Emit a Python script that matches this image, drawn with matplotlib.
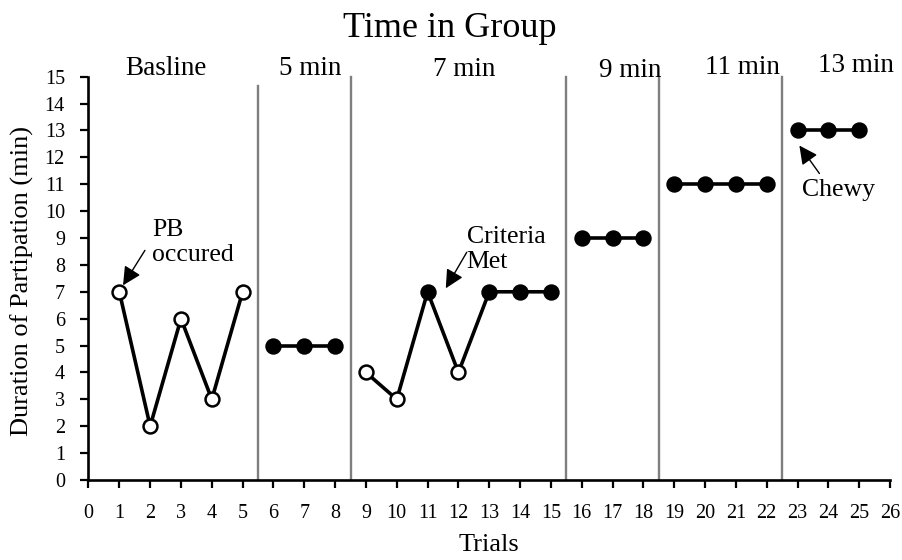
import matplotlib
matplotlib.use("Agg")
import matplotlib.pyplot as plt

# ---- data ----
trials = list(range(1, 26))
values = [7, 2, 6, 3, 7,
          5, 5, 5,
          4, 3, 7, 4, 7, 7, 7,
          9, 9, 9,
          11, 11, 11, 11,
          13, 13, 13]
filled = [False, False, False, False, False,
          True, True, True,
          False, False, True, False, True, True, True,
          True, True, True,
          True, True, True, True,
          True, True, True]
phase_sizes = [5, 3, 7, 3, 4, 3]
phase_labels = ["Basline", "5 min", "7 min", "9 min", "11 min", "13 min"]
phase_changes = [5.5, 8.5, 15.5, 18.5, 22.5]
x_ticks = list(range(0, 27))
y_ticks = list(range(0, 16))

plt.rcParams['font.family'] = ['Liberation Serif', 'DejaVu Serif']

fig = plt.figure(figsize=(9.03, 5.6), dpi=100)
ax = fig.add_axes([88.5 / 903, 1 - 480 / 560, (890 - 88.5) / 903, (480 - 76.7) / 560])

# phase change lines
for i, pc in enumerate(phase_changes):
    top = 14.65 if i == 0 else 15
    ax.plot([pc, pc], [0, top], color='#7f7f7f', lw=1.7, zorder=1, clip_on=False)

# series per phase
start = 0
for size in phase_sizes:
    xs = trials[start:start + size]
    ys = values[start:start + size]
    fs = filled[start:start + size]
    ax.plot(xs, ys, color='black', lw=2.6, zorder=2, clip_on=False)
    for x, y, f in zip(xs, ys, fs):
        ax.plot([x], [y], marker='o', ms=10, mec='black', mew=1.8,
                mfc='black' if f else 'white', zorder=3, clip_on=False)
    start += size

ax.set_xlim(0, 26)
ax.set_ylim(0, 15)
ax.set_xticks(x_ticks)
ax.set_yticks(y_ticks)
ax.tick_params(axis='both', direction='out', length=6, width=1.6, labelsize=14.5, color='black')
ax.tick_params(axis='y', pad=11)
ax.tick_params(axis='x', pad=11)
for s in ['top', 'right']:
    ax.spines[s].set_visible(False)
for s in ['left', 'bottom']:
    ax.spines[s].set_linewidth(1.9)

# phase labels
label_pos = [(2.51, 15.3), (7.18, 15.3), (12.2, 15.25), (17.58, 15.22), (21.2, 15.34), (24.9, 15.41)]
for lab, (x, y) in zip(phase_labels, label_pos):
    ax.text(x, y, lab, ha='center', va='center', fontsize=19.5, clip_on=False)

# annotations
arrow = dict(arrowstyle='-|>', color='black', lw=1.0, mutation_scale=28, shrinkA=0, shrinkB=0)
ax.annotate("", xy=(1.12, 7.24), xytext=(1.83, 8.54), arrowprops=arrow)
ax.text(2.06, 8.84, "PB\noccured", ha='left', va='center', fontsize=18.5, linespacing=1.15)
ax.annotate("", xy=(11.59, 7.13), xytext=(12.27, 8.47), arrowprops=arrow)
ax.text(12.27, 8.58, "Criteria\nMet", ha='left', va='center', fontsize=18.5, linespacing=1.2)
ax.annotate("", xy=(23.06, 12.44), xytext=(23.71, 11.40), arrowprops=arrow)
ax.text(23.16, 10.77, "Chewy", ha='left', va='center', fontsize=18.5)

fig.text(0.498, 1 - 37 / 560, "Time in Group", ha='center', va='baseline', fontsize=26)
fig.text(489 / 903, 1 - 545 / 560, "Trials", ha='center', va='center', fontsize=19)
fig.text(22 / 903, 1 - 281 / 560, "Duration of Partipation (min)", ha='center', va='center',
         rotation=90, fontsize=19)

fig.savefig("out.png", dpi=100)
